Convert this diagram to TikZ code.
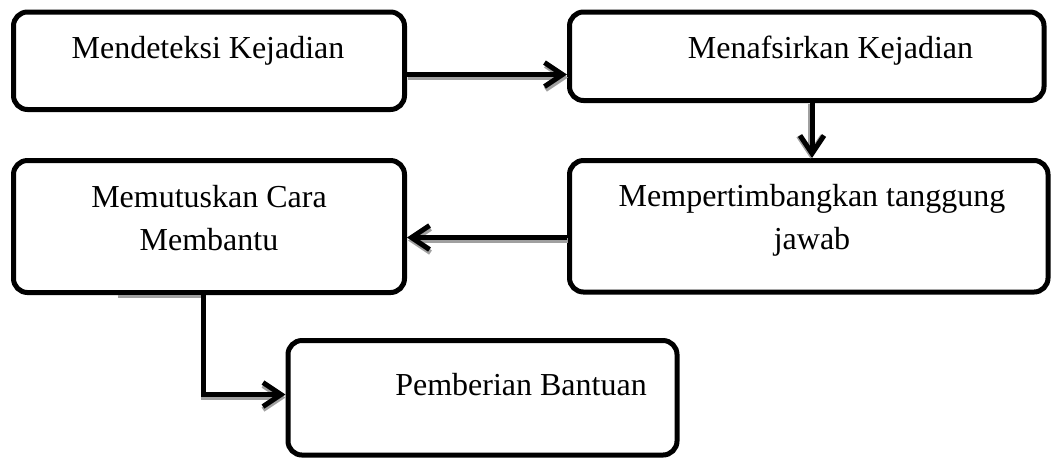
\documentclass[tikz,border=0pt]{standalone}
\usepackage{fontspec}
\setmainfont{Liberation Serif}
\usepackage{tikz}
\usetikzlibrary{arrows.meta,positioning}
\definecolor{shadegray}{HTML}{A0A0A0}

\tikzset{
	tahap/.style={rectangle, draw, line width=2.5pt, rounded corners=7pt, inner sep=0pt},
	teks/.style={anchor=base, align=center, font=\fontsize{16}{21.5}\selectfont, inner sep=0pt},
	alur/.style={line width=2.5pt, -{Straight Barb[length=9pt, width=12pt]}},
	bayang/.style={alur, color=shadegray, transform canvas={shift={#1}}},
	bayang/.default={(0.5pt,-1.5pt)},
}

\begin{document}
\begin{tikzpicture}[x=0.5pt, y=-0.5pt]
		\useasboundingbox (0,0) rectangle (1052,457);
		
		\node[tahap, minimum width=195.5pt, minimum height=48.75pt] (deteksi) at (209,60.75) {};
		\node[teks] (deteksiT) at ([shift={(-0.5pt,-24.25pt)}]deteksi.north) {Mendeteksi Kejadian};
		\node[tahap, minimum width=237.25pt, minimum height=44.25pt] (tafsir) at (806.75,56.25) {};
		\node[teks] (tafsirT) at ([shift={(11.875pt,-24.25pt)}]tafsir.north) {Menafsirkan Kejadian};
		
		\node[tahap, minimum width=195.5pt, minimum height=66pt] (putus) at (209,226.5) {};
		\node[teks] (putusT) at ([shift={(0pt,-46pt)}]putus.north) {Memutuskan Cara\\Membantu};
		\node[tahap, minimum width=239.25pt, minimum height=65.75pt] (timbang) at (808.75,226.25) {};
		\node[teks] (timbangT) at ([shift={(1.625pt,-45.5pt)}]timbang.north) {Mempertimbangkan tanggung\\jawab};
		
		\node[tahap, minimum width=194.5pt, minimum height=57.25pt] (bantuan) at (482.5,397.75) {};
		\node[teks] (bantuanT) at ([shift={(19.25pt,-28.5pt)}]bantuan.north) {Pemberian Bantuan};
		
		% shadows first
		\draw[bayang] ([yshift=-6.875pt]deteksi.east) -- ([yshift=-9.125pt]tafsir.west);
		\draw[bayang={(-0.75pt,-0.25pt)}] ([xshift=2.625pt]tafsir.south) -- ([xshift=2.625pt]tafsir.south |- timbang.north);
		\draw[bayang] ([yshift=-5.625pt]timbang.west) -- ([yshift=-5.625pt]timbang.west -| putus.east);
		\draw[bayang={(0pt,-1.5pt)}] ([shift={(-45.5pt,1.25pt)}]putus.south) -- ++(42.5pt,0pt) |- ([yshift=1.625pt]bantuan.west);
		
		\draw[alur] ([yshift=-6.875pt]deteksi.east) -- ([yshift=-9.125pt]tafsir.west);
		\draw[alur] ([xshift=2.625pt]tafsir.south) -- ([xshift=2.625pt]tafsir.south |- timbang.north);
		\draw[alur] ([yshift=-5.625pt]timbang.west) -- ([yshift=-5.625pt]timbang.west -| putus.east);
		\draw[alur] ([shift={(-45.5pt,1.25pt)}]putus.south) -- ++(42.5pt,0pt) |- ([yshift=1.625pt]bantuan.west);
		
	\end{tikzpicture}
\end{document}
